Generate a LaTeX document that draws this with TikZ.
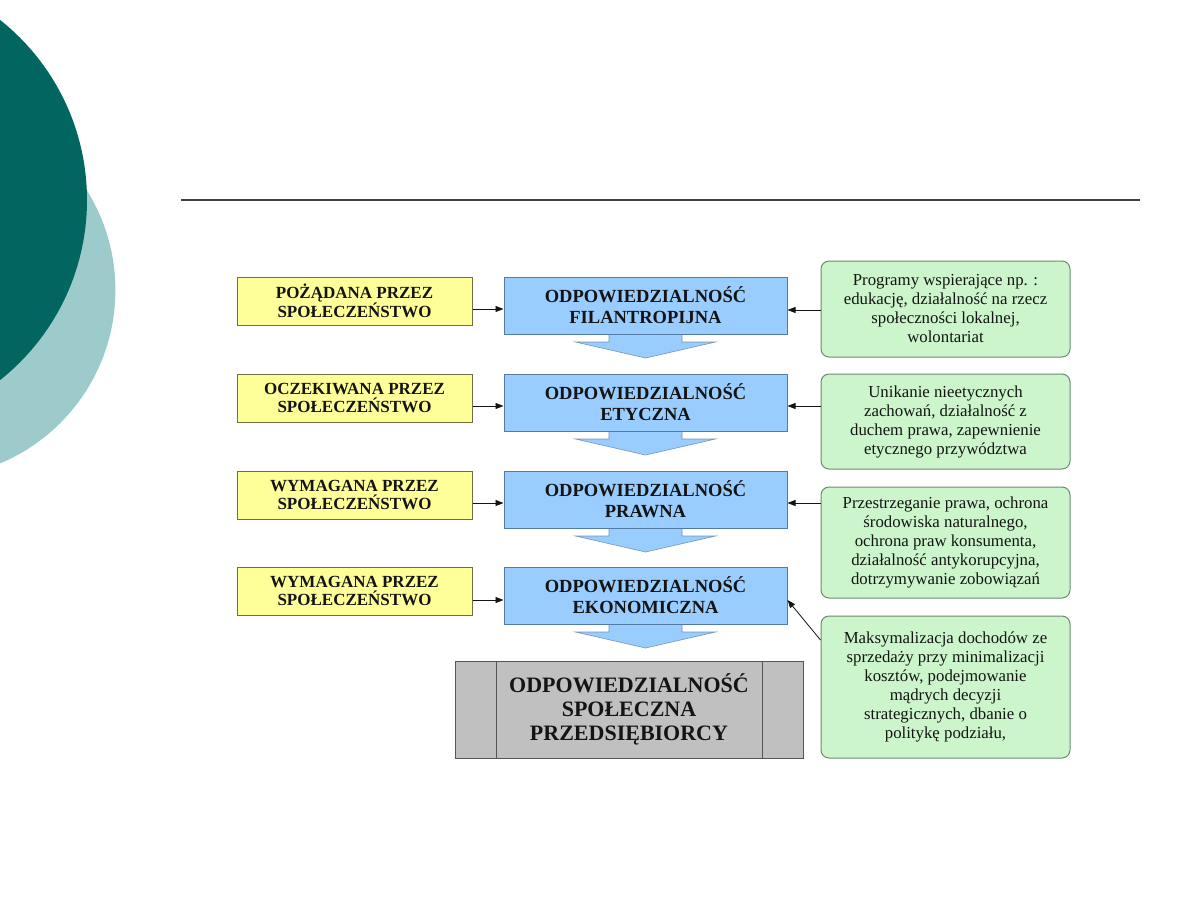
\documentclass[tikz,border=0pt]{standalone}
\usepackage{fontspec}
\setmainfont{Liberation Serif}
\usetikzlibrary{arrows.meta,calc}
\definecolor{tealdark}{HTML}{00665F}
\definecolor{teallight}{HTML}{9DCBCC}
\definecolor{yfill}{HTML}{FFFF99}
\definecolor{ydraw}{HTML}{6E6E40}
\definecolor{bfill}{HTML}{99CCFF}
\definecolor{bdraw}{HTML}{557BA3}
\definecolor{gfill}{HTML}{CCF5CC}
\definecolor{gdraw}{HTML}{6E8A6E}
\definecolor{grfill}{HTML}{C0C0C0}
\definecolor{grdraw}{HTML}{555555}
\definecolor{txt}{HTML}{141414}
\tikzset{
  ybox/.style={draw=ydraw, line width=1pt, fill=yfill, minimum width=235pt, minimum height=48pt,
    inner sep=0pt, align=center, text=txt, font=\fontsize{17}{17.5}\selectfont\bfseries},
  bbox/.style={draw=bdraw, line width=1pt, fill=bfill, minimum width=283pt, minimum height=57pt,
    inner sep=0pt, align=center, text=txt, font=\fontsize{18.5}{21}\selectfont\bfseries},
  gbox/.style={draw=gdraw, line width=1pt, fill=gfill, rounded corners=8pt, minimum width=249pt,
    inner sep=0pt, align=center, text=txt, font=\fontsize{16.8}{19}\selectfont},
  sbox/.style={draw=grdraw, line width=1pt, fill=grfill, minimum width=348pt, minimum height=97pt,
    inner sep=0pt, align=center, text=txt, font=\fontsize{22}{24}\selectfont\bfseries},
  conn/.style={draw=txt, line width=0.8pt, -{Triangle[length=8pt,width=6pt]}},
  blockarrow/.style={fill=bfill, draw=bdraw!80, line width=0.6pt},
}
\begin{document}
\begin{tikzpicture}[x=1pt,y=-1pt]
\useasboundingbox (0,0) rectangle (1200,900);
\fill[white] (0,0) rectangle (1200,900);
\begin{scope}
\clip (0,0) rectangle (1200,900);
\fill[teallight] (-72.6,290) circle[radius=188];
\fill[tealdark] (-143,200) circle[radius=230];
\end{scope}
\draw[line width=1.5pt, draw=black!75] (181,200) -- (1140,200);

% yellow boxes
\node[ybox] (y1) at (354.5,301) {POŻĄDANA PRZEZ\\SPOŁECZEŃSTWO};
\node[ybox] (y2) at (354.5,398) {OCZEKIWANA PRZEZ\\SPOŁECZEŃSTWO};
\node[ybox] (y3) at (354.5,495) {WYMAGANA PRZEZ\\SPOŁECZEŃSTWO};
\node[ybox] (y4) at (354.5,591) {WYMAGANA PRZEZ\\SPOŁECZEŃSTWO};

% block arrows (drawn under the blue boxes)
\foreach \r in {277,374,471,567}{
  \path[blockarrow] (609,\r+50) -- (609,\r+65) -- (575.5,\r+65) -- (645.5,\r+81)
     -- (715.5,\r+65) -- (682,\r+65) -- (682,\r+50) -- cycle;
}

% blue boxes
\node[bbox] (b1) at (645.5,305.5) {ODPOWIEDZIALNOŚĆ\\FILANTROPIJNA};
\node[bbox] (b2) at (645.5,402.5) {ODPOWIEDZIALNOŚĆ\\ETYCZNA};
\node[bbox] (b3) at (645.5,499.5) {ODPOWIEDZIALNOŚĆ\\PRAWNA};
\node[bbox] (b4) at (645.5,595.5) {ODPOWIEDZIALNOŚĆ\\EKONOMICZNA};

% final box
\node[sbox] (s) at (629,709.5) {ODPOWIEDZIALNOŚĆ\\SPOŁECZNA\\PRZEDSIĘBIORCY};
\draw[grdraw, line width=1pt] ($(s.north west)+(42,0)$) -- ($(s.south west)+(42,0)$);
\draw[grdraw, line width=1pt] ($(s.north east)+(-41,0)$) -- ($(s.south east)+(-41,0)$);

% green boxes
\node[gbox, minimum height=96pt] (g1) at (945.5,309) {Programy wspierające np. :\\edukację, działalność na rzecz\\społeczności lokalnej,\\wolontariat};
\node[gbox, minimum height=95pt] (g2) at (945.5,421.5) {Unikanie nieetycznych\\zachowań, działalność z\\duchem prawa, zapewnienie\\etycznego przywództwa};
\node[gbox, minimum height=111pt] (g3) at (945.5,542.5) {Przestrzeganie prawa, ochrona\\środowiska naturalnego,\\ochrona praw konsumenta,\\działalność antykorupcyjna,\\dotrzymywanie zobowiązań};
\node[gbox, minimum height=142pt] (g4) at (945.5,687) {Maksymalizacja dochodów ze\\sprzedaży przy minimalizacji\\kosztów, podejmowanie\\mądrych decyzji\\strategicznych, dbanie o\\politykę podziału,};

% connectors
\draw[conn] (y1.east |- 0,309) -- (b1.west |- 0,309);
\draw[conn] (y2.east |- 0,406) -- (b2.west |- 0,406);
\draw[conn] (y3.east |- 0,503) -- (b3.west |- 0,503);
\draw[conn] (y4.east |- 0,600) -- (b4.west |- 0,600);
\draw[conn] (g1.west |- 0,310) -- (b1.east |- 0,310);
\draw[conn] (g2.west |- 0,406) -- (b2.east |- 0,406);
\draw[conn] (g3.west |- 0,503) -- (b3.east |- 0,503);
\draw[conn] (g4.west |- 0,640) -- (b4.east |- 0,600);
\end{tikzpicture}
\end{document}
